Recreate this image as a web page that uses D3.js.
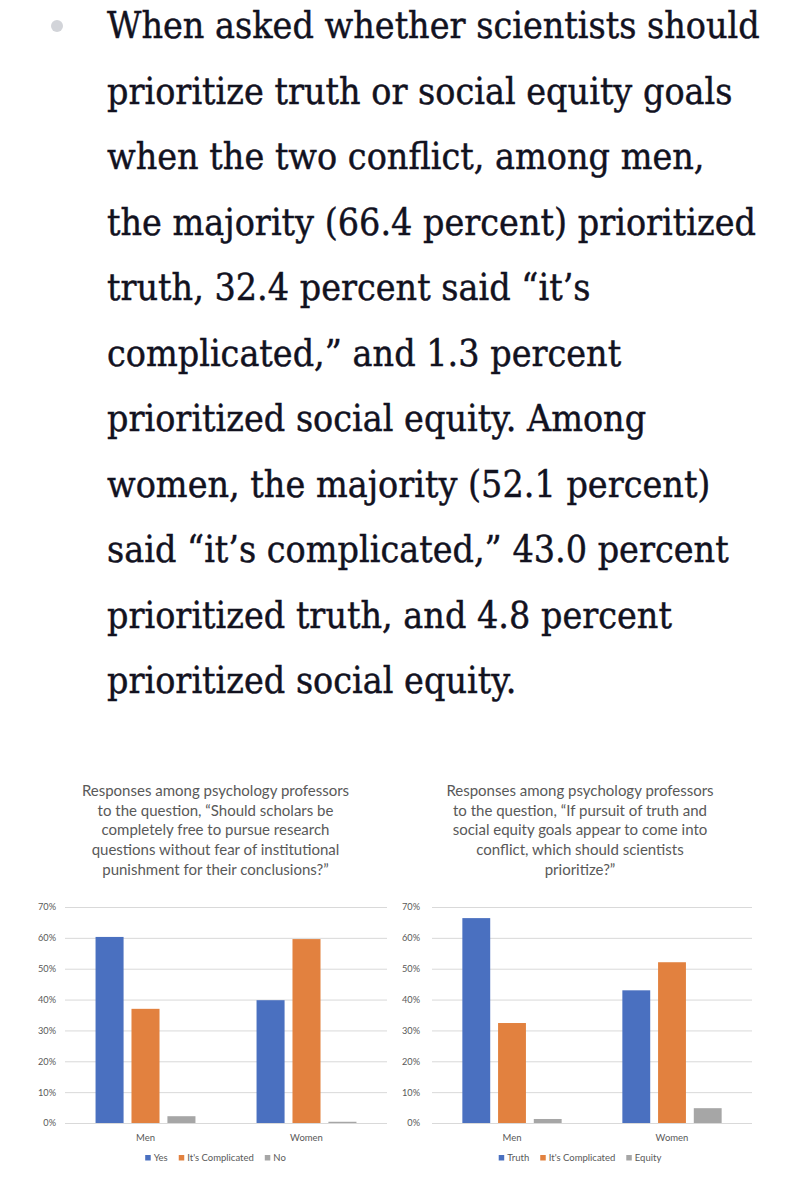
<!DOCTYPE html>
<html>
<head>
<meta charset="utf-8">
<script src="https://cdn.jsdelivr.net/npm/d3@7"></script>
<style>
	html, body { margin: 0; padding: 0; background: #fff; }
	svg { display: block; }
	.body-line { font-family: "DejaVu Serif", serif; font-size: 36.5px; fill: #12121f; stroke: #12121f; stroke-width: 0.45px; }
	.chart-title { font-family: Lato, sans-serif; font-size: 15px; fill: #595959; }
	.axis text { font-family: Lato, sans-serif; font-size: 9.2px; fill: #595959; }
	.cat-axis text { font-size: 9.5px; }
	.axis line { stroke: #d9d9d9; }
	.legend-text { font-family: Lato, sans-serif; font-size: 9.5px; fill: #595959; }
</style>
</head>
<body>
<svg id="page" width="794" height="1200"></svg>
<script>
const bodyLines = [
	"When asked whether scientists should",
	"prioritize truth or social equity goals",
	"when the two conflict, among men,",
	"the majority (66.4 percent) prioritized",
	"truth, 32.4 percent said \u201cit\u2019s",
	"complicated,\u201d and 1.3 percent",
	"prioritized social equity. Among",
	"women, the majority (52.1 percent)",
	"said \u201cit\u2019s complicated,\u201d 43.0 percent",
	"prioritized truth, and 4.8 percent",
	"prioritized social equity.",
];

const groups = ["Men", "Women"];
const yTicks = [0, 10, 20, 30, 40, 50, 60, 70];

const freedomTitle = [
	"Responses among psychology professors",
	"to the question, \u201cShould scholars be",
	"completely free to pursue research",
	"questions without fear of institutional",
	"punishment for their conclusions?\u201d",
];
const freedomSeries = ["Yes", "It's Complicated", "No"];
const freedomMen = [60.3, 37.0, 2.2];
const freedomWomen = [39.8, 59.6, 0.4];

const priorityTitle = [
	"Responses among psychology professors",
	"to the question, \u201cIf pursuit of truth and",
	"social equity goals appear to come into",
	"conflict, which should scientists",
	"prioritize?\u201d",
];
const prioritySeries = ["Truth", "It's Complicated", "Equity"];
const priorityMen = [66.4, 32.4, 1.3];
const priorityWomen = [43.0, 52.1, 4.8];

const seriesColors = ["#4a70c0", "#e2813f", "#a6a6a6"];

const svg = d3.select("#page");

// paragraph with bullet
svg.append("circle").attr("cx", 57).attr("cy", 26).attr("r", 6).attr("fill", "#d2d4d9");

const textBlock = svg.append("g");
const lineNodes = textBlock
	.selectAll("text")
	.data(bodyLines)
	.join("text")
	.attr("class", "body-line")
	.text((d) => d);
// squeeze the serif face to the column width of the original (first line spans 653px)
const squeeze = 653 / lineNodes.nodes()[0].getComputedTextLength();
lineNodes.attr("transform", (d, i) => `translate(107,${38 + i * 65.5}) scale(${squeeze},1)`);

const y = d3.scaleLinear([0, 70], [1123, 907]);

function drawChart(opts) {
	const g = svg.append("g");
	const x0 = d3.scaleBand(groups, opts.xRange);
	const x1 = d3.scaleBand(opts.series, [0, x0.bandwidth()]).paddingInner(0.22).paddingOuter(0.85);
	const color = d3.scaleOrdinal(opts.series, seriesColors);
	const width = opts.xRange[1] - opts.xRange[0];

	g.selectAll(".chart-title")
		.data(opts.title)
		.join("text")
		.attr("class", "chart-title")
		.attr("x", opts.center)
		.attr("y", (d, i) => 796 + i * 19.7)
		.attr("text-anchor", "middle")
		.text((d) => d);

	const yAxis = g
		.append("g")
		.attr("class", "axis")
		.attr("transform", `translate(${opts.xRange[0]},0)`)
		.call(
			d3
				.axisLeft(y)
				.tickValues(yTicks)
				.tickSize(-width)
				.tickPadding(opts.tickPad)
				.tickFormat((d) => `${d}%`)
		);
	yAxis.select(".domain").remove();

	const catAxis = g
		.append("g")
		.attr("class", "axis cat-axis")
		.attr("transform", `translate(0,${y(0)})`)
		.call(d3.axisBottom(x0).tickSize(0).tickPadding(11));
	catAxis.select(".domain").remove();

	const rows = groups.map((group, i) => ({ group, values: i === 0 ? opts.men : opts.women }));
	g.selectAll(".group")
		.data(rows)
		.join("g")
		.attr("transform", (d) => `translate(${x0(d.group)},0)`)
		.selectAll("rect")
		.data((d) => d.values.map((value, i) => ({ key: opts.series[i], value })))
		.join("rect")
		.attr("x", (d) => x1(d.key))
		.attr("width", x1.bandwidth())
		.attr("y", (d) => y(d.value))
		.attr("height", (d) => y(0) - y(d.value))
		.attr("fill", (d) => color(d.key));

	// legend, centred under the chart area
	const legend = g.append("g");
	const items = legend
		.selectAll("g")
		.data(opts.series)
		.join("g");
	items
		.append("rect")
		.attr("width", 5.5)
		.attr("height", 5.5)
		.attr("y", -6)
		.attr("fill", (d) => color(d));
	items
		.append("text")
		.attr("class", "legend-text")
		.attr("x", 8.5)
		.text((d) => d);
	let offset = 0;
	items.each(function () {
		const w = 8.5 + this.querySelector("text").getComputedTextLength();
		d3.select(this).attr("transform", `translate(${offset},0)`);
		offset += w + 11;
	});
	const total = offset - 11;
	legend.attr("transform", `translate(${opts.center - total / 2},1161)`);
}

drawChart({
	xRange: [65, 387],
	center: 215.5,
	tickPad: 9,
	title: freedomTitle,
	series: freedomSeries,
	men: freedomMen,
	women: freedomWomen,
});

drawChart({
	xRange: [432, 752],
	center: 580,
	tickPad: 12,
	title: priorityTitle,
	series: prioritySeries,
	men: priorityMen,
	women: priorityWomen,
});
</script>
</body>
</html>
